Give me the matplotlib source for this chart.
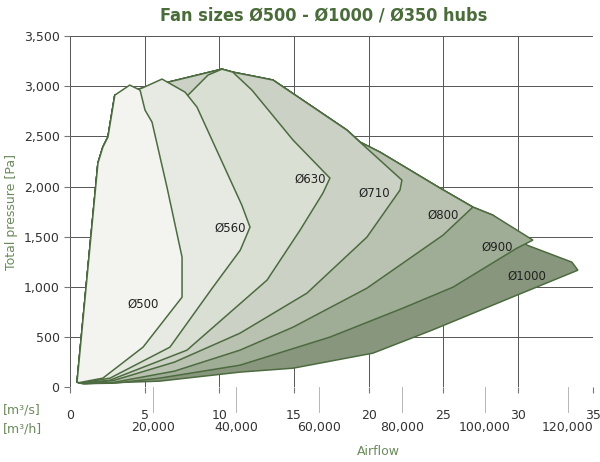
import matplotlib
matplotlib.use("Agg")
import matplotlib.pyplot as plt
from matplotlib.patches import Polygon
from matplotlib.ticker import FuncFormatter
from matplotlib.transforms import blended_transform_factory

# shared left envelope (airflow m3/s, pressure Pa)
left_x = [0.47, 1.87, 2.2, 2.54, 3.0]
left_y = [50, 2233, 2393, 2493, 2911]

# outline of each size from its top-left, clockwise back towards origin
d500_x = [4.0, 4.69, 5.02, 5.49, 6.49, 7.5, 7.5, 4.89, 2.2, 0.6]
d500_y = [3011, 2961, 2762, 2642, 1994, 1296, 897, 399, 90, 45]
d560_x = [4.82, 6.16, 7.7, 8.5, 11.5, 12.05, 11.4, 9.57, 6.69, 2.68, 0.67]
d560_y = [2981, 3071, 2941, 2792, 1815, 1595, 1366, 997, 399, 90, 40]
d630_x = [4.82, 7.9, 9.24, 10.17, 10.9, 12.18, 14.93, 17.4, 16.93, 15.4, 13.19, 7.83, 2.68, 0.8]
d630_y = [2981, 2911, 3111, 3170, 3140, 2961, 2463, 2084, 1934, 1565, 1067, 369, 70, 40]
d710_x = [10.17, 10.9, 12.58, 13.59, 18.54, 19.41, 22.22, 22.09, 19.88, 15.86, 11.38, 7.0, 3.0, 0.9]
d710_y = [3170, 3140, 3091, 3061, 2562, 2443, 2064, 1964, 1496, 937, 538, 250, 70, 35]
d800_x = [10.17, 10.9, 12.58, 13.59, 18.54, 19.41, 20.75, 24.77, 26.97, 24.97, 19.88, 14.93, 11.38, 7.0, 3.0, 1.0]
d800_y = [3170, 3140, 3091, 3061, 2562, 2443, 2343, 1984, 1795, 1515, 987, 598, 369, 160, 50, 35]
d900_x = [10.17, 10.9, 12.58, 13.59, 18.54, 19.41, 20.75, 24.77, 26.97, 28.31, 30.99, 29.92, 25.64, 22.29, 17.4, 11.38, 6.0, 3.0, 1.0]
d900_y = [3170, 3140, 3091, 3061, 2562, 2443, 2343, 1984, 1795, 1715, 1466, 1386, 997, 788, 499, 219, 90, 40, 35]
d1000_x = [10.17, 10.9, 12.58, 13.59, 18.54, 19.41, 20.75, 24.77, 26.97, 28.31, 30.59, 33.6, 34.0, 29.92, 24.23, 20.28, 14.93, 11.38, 6.0, 2.0, 0.8]
d1000_y = [3170, 3140, 3091, 3061, 2562, 2443, 2343, 1984, 1795, 1715, 1416, 1246, 1166, 917, 568, 339, 189, 150, 60, 40, 35]

sizes = ["Ø1000", "Ø900", "Ø800", "Ø710", "Ø630", "Ø560", "Ø500"]
outlines = [(d1000_x, d1000_y), (d900_x, d900_y), (d800_x, d800_y), (d710_x, d710_y),
            (d630_x, d630_y), (d560_x, d560_y), (d500_x, d500_y)]
label_x = [30.6, 28.6, 25.0, 20.4, 16.1, 10.7, 4.9]
label_y = [1107, 1396, 1715, 1934, 2074, 1585, 827]
fills = ["#87967c", "#a0ad96", "#b9c2b0", "#cbd1c4", "#dadfd4", "#e7eae3", "#f3f4f0"]

m3h_ticks = [20000, 40000, 60000, 80000, 100000, 120000]

line_c = "#4d6b40"
green = "#6b8a5b"

fig = plt.figure(figsize=(6, 4.62), dpi=100)
ax = fig.add_axes([0.1167, 0.162, 0.8713, 0.76])

for (xs, ys), fc in zip(outlines, fills):
    pts = list(zip(left_x + xs, left_y + ys))
    ax.add_patch(Polygon(pts, closed=True, facecolor=fc, edgecolor=line_c, lw=1.1, zorder=2))
for name, lx, ly in zip(sizes, label_x, label_y):
    ax.text(lx, ly, name, fontsize=8.5, ha="center", va="center", color="#222222", zorder=4)

ax.set_xlim(0, 35)
ax.set_ylim(0, 3500)
ax.set_xticks(range(0, 36, 5))
ax.set_yticks(range(0, 3501, 500))
ax.yaxis.set_major_formatter(FuncFormatter(lambda v, p: f"{int(v):,}"))
ax.grid(True, color="#555555", lw=0.7, zorder=3)
for s in ax.spines.values():
    s.set_visible(False)
ax.tick_params(axis="x", length=4, pad=12, labelsize=9, color="#777777", labelcolor="#333333")
ax.tick_params(axis="y", length=4, labelsize=9, color="#777777", labelcolor="#333333")

# m3/h scale: small tick lines under the axis and labels on a second row
tr = blended_transform_factory(ax.transData, ax.transAxes)
for v in m3h_ticks:
    xs = v / 3600
    ax.plot([xs, xs], [0, -0.07], transform=tr, color="#aaaaaa", lw=0.6, clip_on=False)
    ax.text(xs, -0.115, f"{v:,}", transform=tr, ha="center", va="center",
            fontsize=9, color="#333333")

ax.set_ylabel("Total pressure [Pa]", color=green, fontsize=9)
fig.text(0.63, 0.015, "Airflow", color=green, fontsize=9, ha="center")
fig.text(0.005, 0.105, "[m³/s]", color=green, fontsize=9)
fig.text(0.005, 0.063, "[m³/h]", color=green, fontsize=9)
fig.text(0.54, 0.955, "Fan sizes Ø500 - Ø1000 / Ø350 hubs", color="#4a6b3a",
         fontsize=13, fontweight="bold", ha="center", fontstretch="condensed")

fig.savefig("out.png", dpi=100)
